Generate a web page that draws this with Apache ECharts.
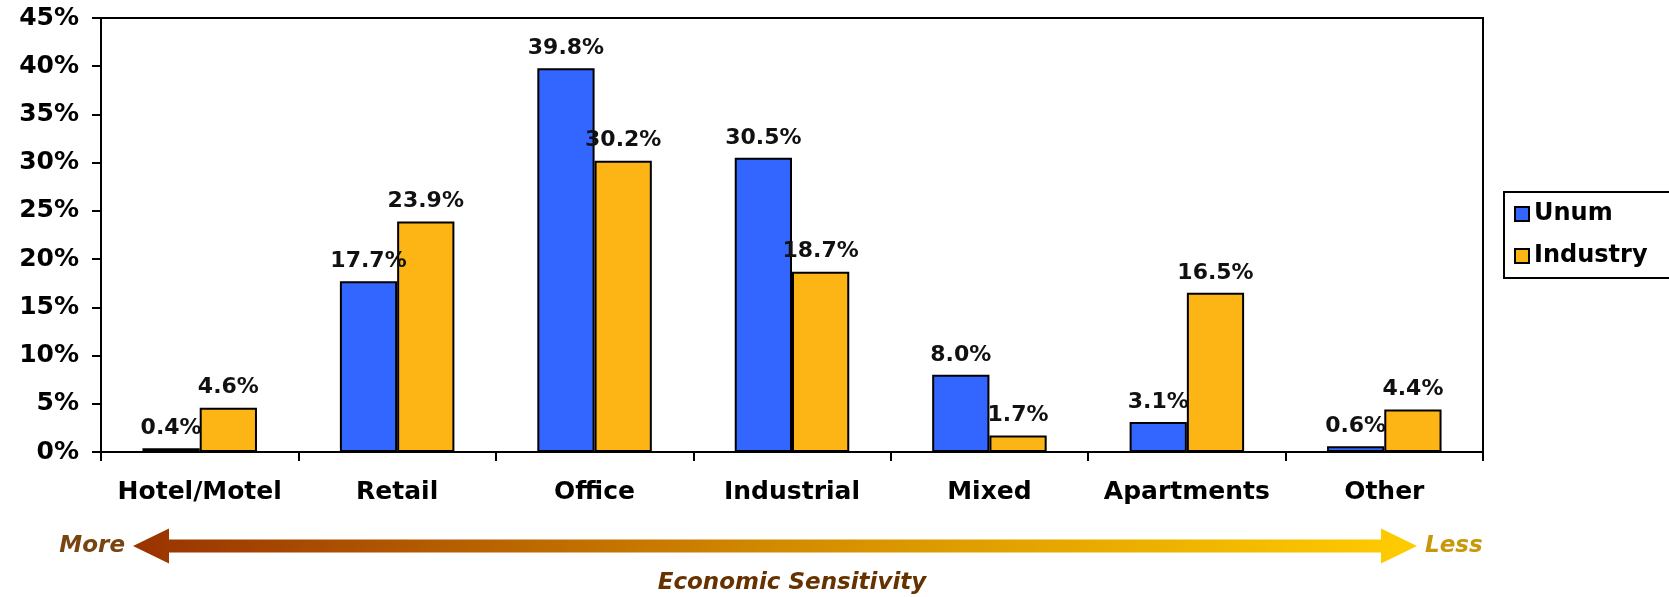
<!DOCTYPE html>
<html>
<head>
<meta charset="utf-8">
<script src="https://cdn.jsdelivr.net/npm/echarts@6/dist/echarts.min.js"></script>
<style>
  html, body { margin: 0; padding: 0; background: #fff; }
  #chart { width: 1669px; height: 597px; }
</style>
</head>
<body>
<div id="chart"></div>
<script>
// Commercial mortgage loan mix by property type
const categories = ['Hotel/Motel', 'Retail', 'Office', 'Industrial', 'Mixed', 'Apartments', 'Other'];
const unumValues = [0.4, 17.7, 39.8, 30.5, 8.0, 3.1, 0.6];
const industryValues = [4.6, 23.9, 30.2, 18.7, 1.7, 16.5, 4.4];
const seriesNames = ['Unum', 'Industry'];

const FONT = '"DejaVu Sans", Verdana, sans-serif';

const chart = echarts.init(document.getElementById('chart'), null, { renderer: 'canvas' });

const labelStyle = {
  show: true,
  position: 'top',
  distance: 9,
  formatter: p => p.value.toFixed(1) + '%',
  fontFamily: FONT,
  fontWeight: 'bold',
  fontSize: 22,
  color: '#111'
};

// Economic sensitivity arrow beneath the axis
const arrowY = 546, x0 = 133, x1 = 1417, head = 36, shaftH = 6.5, headH = 17.5;
const arrowPoints = [
  [x0, arrowY],
  [x0 + head, arrowY - headH],
  [x0 + head, arrowY - shaftH],
  [x1 - head, arrowY - shaftH],
  [x1 - head, arrowY - headH],
  [x1, arrowY],
  [x1 - head, arrowY + headH],
  [x1 - head, arrowY + shaftH],
  [x0 + head, arrowY + shaftH],
  [x0 + head, arrowY + headH]
];

chart.setOption({
  animation: false,
  backgroundColor: '#ffffff',
  grid: { left: 101, top: 18, right: 186, bottom: 145, show: true, borderColor: '#000', borderWidth: 2 },
  legend: {
    orient: 'vertical',
    left: 1504,
    top: 192,
    data: seriesNames,
    icon: 'rect',
    itemWidth: 14,
    itemHeight: 14,
    itemGap: 18,
    padding: [10, 40, 10, 10],
    borderColor: '#000',
    borderWidth: 2,
    textStyle: { fontFamily: FONT, fontWeight: 'bold', fontSize: 24, color: '#000' }
  },
  xAxis: {
    type: 'category',
    data: categories,
    axisLine: { lineStyle: { color: '#000', width: 2 } },
    axisTick: { show: true, interval: 0, length: 9, inside: false, lineStyle: { color: '#000', width: 2 } },
    axisLabel: { interval: 0, fontFamily: FONT, fontWeight: 'bold', fontSize: 25, color: '#000', margin: 28 }
  },
  yAxis: {
    type: 'value',
    min: 0,
    max: 45,
    interval: 5,
    splitLine: { show: false },
    axisLine: { show: true, lineStyle: { color: '#000', width: 2 } },
    axisTick: { show: true, length: 9, lineStyle: { color: '#000', width: 2 } },
    axisLabel: { fontFamily: FONT, fontWeight: 'bold', fontSize: 25, color: '#000', margin: 22, formatter: '{value}%' }
  },
  series: [
    {
      name: seriesNames[0],
      type: 'bar',
      data: unumValues,
      barGap: '0%',
      barCategoryGap: '42%',
      itemStyle: { color: '#3366FF', borderColor: '#000', borderWidth: 2 },
      label: labelStyle
    },
    {
      name: seriesNames[1],
      type: 'bar',
      data: industryValues,
      itemStyle: { color: '#FDB515', borderColor: '#000', borderWidth: 2 },
      label: labelStyle
    }
  ],
  graphic: [
    {
      type: 'polygon',
      shape: { points: arrowPoints },
      style: {
        fill: new echarts.graphic.LinearGradient(0, 0, 1, 0, [
          { offset: 0, color: '#993300' },
          { offset: 0.5, color: '#D28A00' },
          { offset: 1, color: '#FFCC00' }
        ])
      }
    },
    {
      type: 'text',
      x: 125, y: arrowY,
      style: { text: 'More', fontFamily: FONT, fontWeight: 'bold', fontStyle: 'italic', fontSize: 23, fill: '#7A4410', align: 'right', verticalAlign: 'middle' }
    },
    {
      type: 'text',
      x: 1425, y: arrowY,
      style: { text: 'Less', fontFamily: FONT, fontWeight: 'bold', fontStyle: 'italic', fontSize: 23, fill: '#C8980A', align: 'left', verticalAlign: 'middle' }
    },
    {
      type: 'text',
      x: 792, y: 583,
      style: { text: 'Economic Sensitivity', fontFamily: FONT, fontWeight: 'bold', fontStyle: 'italic', fontSize: 23, fill: '#663300', align: 'center', verticalAlign: 'middle' }
    }
  ]
});
</script>
</body>
</html>
